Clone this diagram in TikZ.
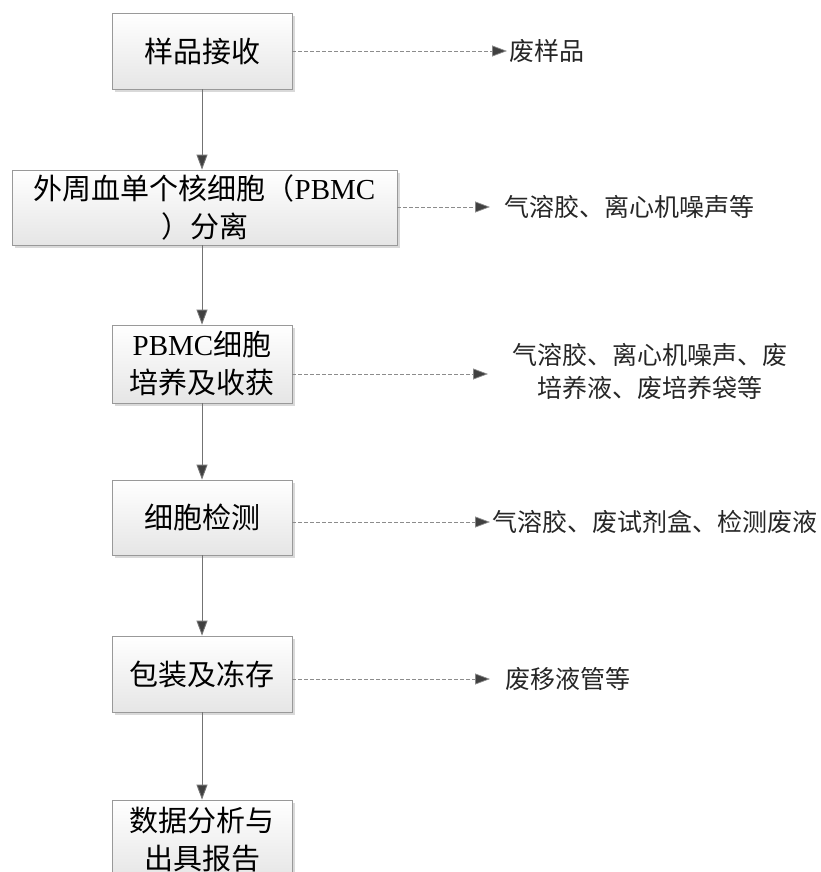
\documentclass[tikz,border=0pt]{standalone}
\usepackage{fontspec}
\setmainfont{Liberation Serif}
\newfontfamily\cjk{Noto Sans CJK SC}
\usetikzlibrary{arrows.meta,shadows}
\tikzset{
  x=1pt,y=-1pt,
  stepbox/.style={draw=black!40,line width=0.8pt,top color=white,bottom color=black!10,
    drop shadow={shadow xshift=3pt,shadow yshift=-3pt,fill=black!25,opacity=0.6},
    minimum width=180pt,minimum height=76pt,align=center,inner sep=0pt,
    font=\cjk\fontsize{29}{38}\selectfont},
  outtext/.style={align=center,inner sep=0pt,font=\cjk\fontsize{25}{33}\selectfont,text=black!85},
  flow/.style={draw=black!55,line width=0.9pt,-{Triangle[length=15pt,width=11pt,fill=black!75]}},
  waste/.style={draw=black!45,line width=0.7pt,dash pattern=on 4pt off 2pt,-{Triangle[length=15pt,width=11pt,fill=black!75]}}
}
\begin{document}
\begin{tikzpicture}
\useasboundingbox (0,0) rectangle (821,872);
\clip (0,0) rectangle (821,872);
\node[stepbox] (b1) at (202,51) {样品接收};
\node[stepbox,minimum width=385pt,minimum height=75pt] (b2) at (204.5,207.5) {外周血单个核细胞（{\rmfamily PBMC}\\）分离};
\node[stepbox,minimum height=78pt] (b3) at (202,364) {{\rmfamily PBMC}细胞\\培养及收获};
\node[stepbox,minimum height=75pt] (b4) at (202,517.5) {细胞检测};
\node[stepbox] (b5) at (202,674) {包装及冻存};
\node[stepbox,minimum height=80pt] (b6) at (202,840) {数据分析与\\出具报告};
\draw[flow] (b1.south) -- (b1.south |- b2.north);
\draw[flow] (b1.south |- b2.south) -- (b3.north);
\draw[flow] (b3.south) -- (b4.north);
\draw[flow] (b4.south) -- (b5.north);
\draw[flow] (b5.south) -- (b6.north);
\coordinate (e1) at (507,51);
\coordinate (e2) at (490,207);
\coordinate (e3) at (488,374);
\coordinate (e4) at (490,522);
\coordinate (e5) at (490,679);
\draw[waste] (b1.east) -- (e1);
\draw[waste] (b2.east |- e2) -- (e2);
\draw[waste] (b3.east |- e3) -- (e3);
\draw[waste] (b4.east |- e4) -- (e4);
\draw[waste] (b5.east |- e5) -- (e5);
\node[outtext,anchor=west] (t1) at (509,51) {废样品};
\node[outtext,anchor=west] (t2) at (504,207) {气溶胶、离心机噪声等};
\node[outtext] (t3) at (650,371) {气溶胶、离心机噪声、废\\培养液、废培养袋等};
\node[outtext,anchor=west] (t4) at (492,522) {气溶胶、废试剂盒、检测废液};
\node[outtext,anchor=west] (t5) at (505,679) {废移液管等};
\end{tikzpicture}
\end{document}
